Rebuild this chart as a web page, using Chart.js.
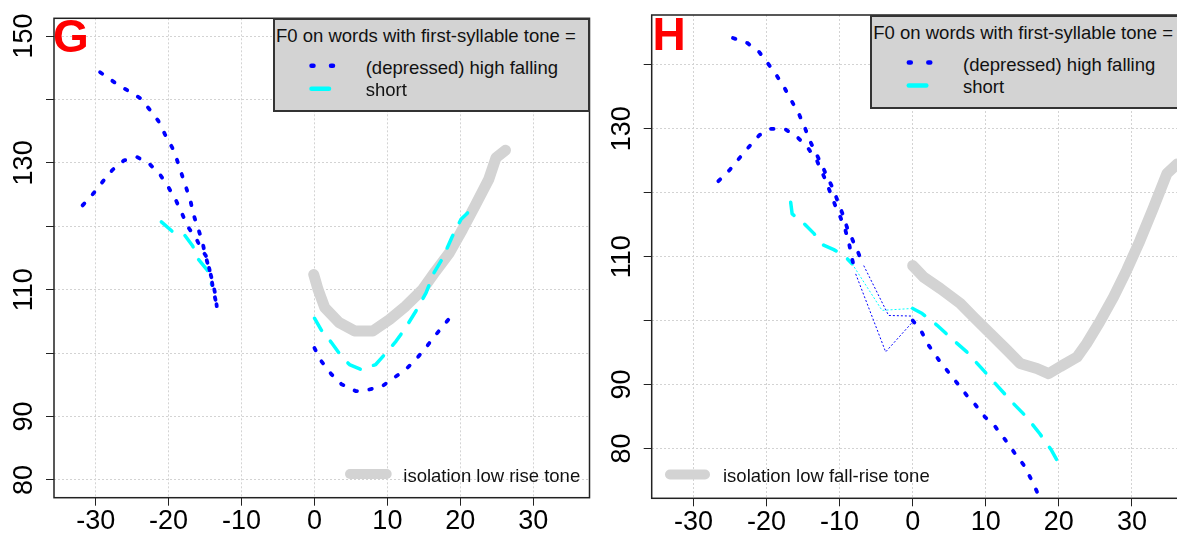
<!DOCTYPE html>
<html>
<head>
<meta charset="utf-8">
<script src="https://cdn.jsdelivr.net/npm/chart.js@4"></script>
<style>
  html, body { margin: 0; padding: 0; background: #fff; overflow: hidden; }
  #wrap { position: relative; width: 1177px; height: 535px; overflow: hidden;
          font-family: "Liberation Sans", Arial, sans-serif; }
  canvas { position: absolute; top: 0; }
  #g-chart { left: 0; }
  #h-chart { left: 592px; }
  .letter { position: absolute; color: #f00; font-weight: bold; font-size: 46px; line-height: 46px; }
  .key { position: absolute; background: #d3d3d3; border: 2px solid #333; box-sizing: border-box; }
  .txt { position: absolute; font-size: 18.5px; line-height: 18.5px; color: #111; white-space: nowrap; }
  svg.swatch { position: absolute; left: 0; top: 0; overflow: visible; }
</style>
</head>
<body>
<div id="wrap">
  <canvas id="g-chart" width="591" height="535"></canvas>
  <canvas id="h-chart" width="598" height="535"></canvas>
</div>
<script>
// axis setup (same x range on both panels, R-style 4% padding)
const X_TICKS = [-30, -20, -10, 0, 10, 20, 30];
const Y_TICKS = [80, 90, 100, 110, 120, 130, 140, 150];
const G_Y_LABELS = [80, 90, 110, 130, 150];
const H_Y_LABELS = [80, 90, 110, 130];
const X_RANGE = [-35.72, 37.72];
const G_Y_RANGE = [77.2, 152.8];
const H_Y_RANGE = [72.2, 147.8];

// legend texts
const KEY_TITLE = 'F0 on words with first-syllable tone =';
const KEY_FALL = '(depressed) high falling';
const KEY_SHORT = 'short';
const G_ISO_LABEL = 'isolation low rise tone';
const H_ISO_LABEL = 'isolation low fall-rise tone';

// ---- panel G ----
const G_FALL_A_X = [-29.4, -27.3, -25.6, -23.9, -22.6, -21.4, -20.5, -19.5, -18.8, -18.2, -17.6, -17.0, -16.6, -16.0, -15.4, -15.0, -14.5, -14.0, -13.6, -13.4];
const G_FALL_A_Y = [144.3, 142.6, 141.4, 140.2, 138.4, 136.6, 134.5, 132.4, 130.3, 128.2, 126.1, 124.0, 121.9, 119.8, 117.7, 115.6, 113.5, 111.4, 109.3, 107.4];
const G_FALL_B_X = [-31.8, -30.3, -29.0, -27.7, -26.1, -24.3, -22.6, -21.2, -20.1, -19.0, -18.2, -17.4, -16.2, -15.4, -14.8, -14.4, -14.1, -13.8, -13.4];
const G_FALL_B_Y = [123.3, 125.2, 127.1, 128.9, 130.4, 130.9, 129.8, 128.2, 126.3, 124.1, 122.1, 120.0, 118.0, 116.2, 115.2, 113.2, 111.5, 109.5, 107.6];
const G_SHORT_L_X = [-21.0, -19.4, -17.8, -16.7, -16.0, -14.7, -14.1];
const G_SHORT_L_Y = [120.7, 119.1, 118.6, 116.9, 114.9, 113.1, 110.8];
const G_ISO_X = [-0.1, 0.5, 1.4, 3.4, 5.5, 8.0, 10.3, 12.5, 14.8, 16.6, 18.5, 20.3, 22.1, 23.9, 24.9, 26.2];
const G_ISO_Y = [112.4, 110.0, 107.2, 104.8, 103.5, 103.5, 105.3, 107.4, 110.0, 112.9, 115.8, 119.5, 123.4, 127.4, 130.8, 132.0];
const G_SHORT_R_X = [0.0, 0.9, 2.3, 3.7, 4.8, 6.4, 8.4, 9.8, 11.2, 12.5, 13.9, 15.3, 16.4, 17.6, 18.9, 20.1, 21.0];
const G_SHORT_R_Y = [105.5, 103.7, 101.7, 99.5, 98.2, 97.4, 98.2, 100.0, 101.9, 104.0, 106.6, 109.5, 112.7, 115.0, 118.4, 121.1, 122.1];
const G_FALL_R_X = [0.0, 0.9, 2.3, 3.7, 5.7, 7.3, 9.3, 10.9, 12.5, 13.9, 15.3, 16.5, 17.8, 18.9, 19.2];
const G_FALL_R_Y = [100.8, 98.8, 96.7, 95.1, 94.0, 94.2, 94.8, 96.1, 97.4, 99.0, 100.9, 102.7, 104.5, 106.0, 106.4];

// ---- panel H ----
const H_FALL_A_X = [-24.6, -22.6, -21.0, -19.8, -18.6, -17.5, -16.5, -15.6, -14.8, -14.1, -13.3, -12.4, -11.7, -11.0, -10.3, -9.6, -9.0, -8.3, -7.6, -6.7];
const H_FALL_A_Y = [144.2, 143.4, 142.0, 140.2, 138.3, 136.3, 134.2, 132.4, 130.3, 128.2, 126.3, 124.3, 122.4, 120.9, 118.8, 116.7, 114.6, 112.8, 111.0, 108.6];
const H_FALL_B_X = [-26.6, -25.1, -23.8, -22.4, -21.0, -19.4, -17.4, -15.8, -14.4, -13.1, -11.9, -11.2, -10.6, -9.9, -9.2, -8.7, -8.3, -7.8];
const H_FALL_B_Y = [121.8, 123.5, 125.3, 127.2, 129.0, 130.0, 129.9, 128.7, 127.1, 125.0, 121.9, 119.8, 118.0, 116.2, 114.1, 112.0, 109.7, 107.3];
const H_SHORT_L_X = [-16.7, -16.5, -14.9, -13.5, -12.2, -10.8, -9.4, -8.3];
const H_SHORT_L_Y = [118.5, 116.7, 115.2, 113.6, 111.8, 111.1, 110.2, 108.9];
// thin joins across the gap before 0
const H_GAP_A_X = [-6.7, -3.3, 0.0];
const H_GAP_A_Y = [108.6, 100.8, 100.7];
const H_GAP_B_X = [-7.8, -3.7, 0.0];
const H_GAP_B_Y = [107.3, 95.1, 99.8];
const H_GAP_S_X = [-8.3, -4.2, 0.0];
const H_GAP_S_Y = [108.9, 101.6, 101.9];
const H_ISO_X = [0.0, 1.5, 3.8, 6.5, 8.3, 10.6, 12.9, 14.7, 17.0, 18.6, 20.2, 22.5, 23.8, 25.6, 27.5, 29.3, 31.1, 32.9, 34.8, 36.2];
const H_ISO_Y = [108.6, 106.8, 105.0, 102.7, 100.6, 98.0, 95.4, 93.3, 92.5, 91.7, 92.8, 94.3, 96.4, 99.8, 103.7, 107.9, 112.5, 117.5, 123.0, 124.5];
const H_SHORT_R_X = [0.0, 1.3, 3.3, 5.6, 7.4, 9.7, 11.5, 13.8, 15.6, 17.4, 19.0, 20.6];
const H_SHORT_R_Y = [101.9, 101.1, 99.3, 96.9, 95.1, 92.2, 89.9, 87.0, 84.9, 82.3, 79.7, 76.4];
const H_FALL_R_X = [0.0, 1.1, 2.2, 3.6, 4.7, 6.1, 7.4, 8.6, 9.9, 11.3, 12.7, 14.0, 15.2, 16.3, 17.1];
const H_FALL_R_Y = [100.0, 98.5, 96.1, 93.8, 92.2, 90.2, 88.3, 86.8, 84.9, 83.4, 81.3, 79.2, 77.4, 75.0, 73.0];

// line styles (R lty 3 / lty 2 / thick lightgray)
const FALL = { borderColor: '#0000ff', borderWidth: 3.8, borderDash: [2.6, 12.4], borderCapStyle: 'round' };
const SHORT = { borderColor: '#00ffff', borderWidth: 3.5, borderDash: [14, 14], borderCapStyle: 'round' };
const ISO = { borderColor: '#d3d3d3', borderWidth: 11, borderCapStyle: 'round' };
const THIN_FALL = { borderColor: '#0000ff', borderWidth: 1, borderDash: [2, 2] };
const THIN_SHORT = { borderColor: '#00ffff', borderWidth: 1, borderDash: [2, 2] };

const pts = (xs, ys) => xs.map((x, i) => ({ x: x, y: ys[i] }));
const line = (xs, ys, style) => Object.assign({
  data: pts(xs, ys), pointRadius: 0, tension: 0, fill: false, borderJoinStyle: 'round'
}, style);

const AXIS_FONT = { family: '"Liberation Sans", Arial, sans-serif', size: 27 };

// box round the plot region, like R's box()
const framePlugin = {
  id: 'frame',
  afterDraw(chart) {
    const { ctx, chartArea: a } = chart;
    ctx.save();
    ctx.strokeStyle = '#222';
    ctx.lineWidth = 1.5;
    ctx.strokeRect(a.left, a.top, a.right - a.left, a.bottom - a.top);
    ctx.restore();
  }
};

function makePanel(id, datasets, yRange, yLabels, pad, yWidth, xHeight) {
  const grid = { color: '#d3d3d3', lineWidth: 1, tickColor: '#222', tickLength: 8, tickBorderDash: [] };
  return new Chart(document.getElementById(id), {
    type: 'line',
    data: { datasets: datasets },
    plugins: [framePlugin],
    options: {
      responsive: false,
      animation: false,
      events: [],
      layout: { padding: pad },
      plugins: { legend: { display: false }, tooltip: { enabled: false } },
      scales: {
        x: {
          type: 'linear', bounds: 'data', min: X_RANGE[0], max: X_RANGE[1],
          afterBuildTicks: s => { s.ticks = X_TICKS.map(v => ({ value: v })); },
          afterFit: s => { s.height = xHeight; s.paddingLeft = 0; s.paddingRight = 0; },
          grid: grid,
          border: { display: false, dash: [2, 2] },
          ticks: { font: AXIS_FONT, color: '#000', padding: 0, autoSkip: false, maxRotation: 0,
                   callback: v => String(v) }
        },
        y: {
          type: 'linear', bounds: 'data', min: yRange[0], max: yRange[1],
          afterBuildTicks: s => { s.ticks = Y_TICKS.filter(v => v <= yRange[1]).map(v => ({ value: v })); },
          afterFit: s => { s.width = yWidth; s.paddingTop = 0; s.paddingBottom = 0; },
          grid: grid,
          border: { display: false, dash: [2, 2] },
          ticks: { font: AXIS_FONT, color: '#000', padding: -1, autoSkip: false,
                   minRotation: 90, maxRotation: 90, crossAlign: 'center',
                   callback: v => yLabels.includes(v) ? String(v) : '' }
        }
      }
    }
  });
}

// first dataset is drawn on top, so the gray isolation tone goes last
makePanel('g-chart', [
  line(G_FALL_A_X, G_FALL_A_Y, FALL),
  line(G_FALL_B_X, G_FALL_B_Y, FALL),
  line(G_FALL_R_X, G_FALL_R_Y, FALL),
  line(G_SHORT_L_X, G_SHORT_L_Y, SHORT),
  line(G_SHORT_R_X, G_SHORT_R_Y, SHORT),
  line(G_ISO_X, G_ISO_Y, ISO)
], G_Y_RANGE, G_Y_LABELS, { left: 0, top: 18.3, right: 1.5, bottom: 0 }, 54, 37.3);

makePanel('h-chart', [
  line(H_FALL_A_X, H_FALL_A_Y, FALL),
  line(H_FALL_B_X, H_FALL_B_Y, FALL),
  line(H_FALL_R_X, H_FALL_R_Y, FALL),
  line(H_SHORT_L_X, H_SHORT_L_Y, SHORT),
  line(H_SHORT_R_X, H_SHORT_R_Y, SHORT),
  line(H_GAP_A_X, H_GAP_A_Y, THIN_FALL),
  line(H_GAP_B_X, H_GAP_B_Y, THIN_FALL),
  line(H_GAP_S_X, H_GAP_S_Y, THIN_SHORT),
  line(H_ISO_X, H_ISO_Y, ISO)
], H_Y_RANGE, H_Y_LABELS, { left: 0, top: 15, right: 1.7, bottom: 0 }, 59.7, 36.7);

// legends and panel letters as html overlays
const wrap = document.getElementById('wrap');
function add(html) { wrap.insertAdjacentHTML('beforeend', html); }
function txt(text, left, top) { add(`<div class="txt" style="left:${left}px;top:${top}px">${text}</div>`); }
function seg(x1, x2, y, color, width, dash) {
  add(`<svg class="swatch" width="1" height="1"><line x1="${x1}" y1="${y}" x2="${x2}" y2="${y}"
       stroke="${color}" stroke-width="${width}" stroke-linecap="round"
       ${dash ? `stroke-dasharray="${dash}"` : ''}/></svg>`);
}
function topKey(dx, dy, width) {
  add(`<div class="key" style="left:${272.7 + dx}px;top:${18.3 + dy}px;width:${width}px;height:94px"></div>`);
  txt(KEY_TITLE, 276 + dx, 27 + dy);
  seg(311.5 + dx, 333 + dx, 65.7 + dy, '#0000ff', 4.5, '2 17.5');
  txt(KEY_FALL, 365.7 + dx, 59.3 + dy);
  seg(311.5 + dx, 329 + dx, 88.7 + dy, '#00ffff', 4.5);
  txt(KEY_SHORT, 365.7 + dx, 81 + dy);
}
topKey(0, 0, 317);
topKey(597.3, -3.3, 340);

seg(350, 386.7, 474, '#d3d3d3', 10);
txt(G_ISO_LABEL, 403.3, 466.6);
seg(670, 705, 474.5, '#d3d3d3', 10);
txt(H_ISO_LABEL, 723, 467);

add('<div class="letter" style="left:53px;top:13px">G</div>');
add('<div class="letter" style="left:652.6px;top:11px">H</div>');
</script>
</body>
</html>
